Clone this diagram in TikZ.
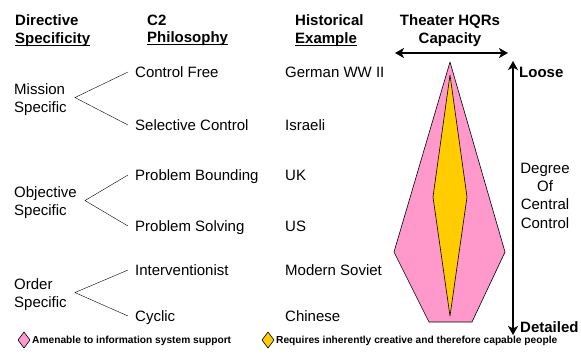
\documentclass[tikz,border=0pt]{standalone}
\usepackage{fontspec}
\setmainfont{Liberation Sans}
\usetikzlibrary{arrows.meta}
\definecolor{pinkfill}{HTML}{FF99CC}
\definecolor{goldfill}{HTML}{FFCC00}
\newcommand{\hul}[1]{\setbox0\hbox{#1}\rlap{\rule[-2.6pt]{\wd0}{1.2pt}}\box0}

\begin{document}
\begin{tikzpicture}[x=1pt,y=-1pt,
	txt/.style={inner sep=0pt,anchor=west,text height=11pt,text depth=0pt,font=\fontsize{15}{17.5}\selectfont},
	blk/.style={inner sep=0pt,anchor=north west,align=left,font=\fontsize{15}{17.5}\selectfont},
	hdr/.style={blk,font=\fontsize{15}{17.5}\selectfont\bfseries},
	key/.style={inner sep=0pt,anchor=west,text height=7.2pt,text depth=0pt,font=\fontsize{10.2}{12}\selectfont\bfseries},
	both/.style={line width=1.8pt,{Stealth[length=9pt,width=10pt,inset=2.5pt]}-{Stealth[length=9pt,width=10pt,inset=2.5pt]}},
	shp/.style={draw=black,line width=0.6pt,line join=round}]
	\useasboundingbox (0,0) rectangle (581,360);

	\node[hdr] (h1) at (15,14.6) {Directive\\\hul{Specificity}};
	\node[hdr] (h2) at (147,14.6) {C2\\\hul{Philosophy}};
	\node[hdr] (h3) at (295,14.6) {Historical\\\hul{Example}};
	\node[hdr,anchor=north,align=center] (h4) at (450,14.6) {Theater HQRs\\Capacity};

	\node[blk] (mis) at (14,83.6) {Mission\\Specific};
	\node[blk] (obj) at (14,186.6) {Objective\\Specific};
	\node[blk] (ord) at (14,278.6) {Order\\Specific};

	\node[txt] (cf) at (135,72) {Control Free};
	\node[txt] (sc) at (135,125) {Selective Control};
	\node[txt] (pb) at (135,175) {Problem Bounding};
	\node[txt] (ps) at (135,226) {Problem Solving};
	\node[txt] (iv) at (135,270) {Interventionist};
	\node[txt] (cy) at (135,316) {Cyclic};

	\node[txt] (ge) at (285,72) {German WW II};
	\node[txt] (is) at (285,125) {Israeli};
	\node[txt] (uk) at (285,175) {UK};
	\node[txt] (us) at (285,226) {US};
	\node[txt] (so) at (285,270) {Modern Soviet};
	\node[txt] (cn) at (285,316) {Chinese};

	\draw[thin] ([xshift=-7pt]cf.west) -- ([shift={(8,-2)}]mis.east) -- ([xshift=-7pt]sc.west);
	\draw[thin] ([xshift=-7pt]pb.west) -- ([shift={(8,-2)}]obj.east) -- ([xshift=-7pt]ps.west);
	\draw[thin] ([xshift=-7pt]iv.west) -- ([shift={(8,-2)}]ord.east) -- ([xshift=-7pt]cy.west);

	\filldraw[shp,fill=pinkfill] (450,62) -- (505,252) -- (472,322) -- (429,322) -- (394,252) -- cycle;
	\filldraw[shp,fill=goldfill] (450,75) -- (467,197) -- (450,316) -- (433,197) -- cycle;

	\coordinate (capl) at (395,53);
	\coordinate (capr) at (508,53);
	\draw[both] (capl) -- (capr);
	\coordinate (lo) at (513,61);
	\coordinate (hi) at (513,335);
	\draw[both] (lo) -- (hi);

	\node[txt,font=\fontsize{15}{17.5}\selectfont\bfseries] (loose) at (519,72) {Loose};
	\node[txt,font=\fontsize{15}{17.5}\selectfont\bfseries] (det) at (520,327) {Detailed};
	\node[blk,anchor=north,align=center,font=\fontsize{15}{18.3}\selectfont] (deg) at (545,162.6) {Degree\\Of\\Central\\Control};

	\filldraw[shp,fill=pinkfill] (18,340) -- (24,332) -- (30,340) -- (24,348) -- cycle;
	\node[key] (k1) at (32,340) {Amenable to information system support};
	\filldraw[shp,fill=goldfill] (262,340) -- (268,332) -- (274,340) -- (268,348) -- cycle;
	\node[key] (k2) at (276,340) {Requires inherently creative and therefore capable people};
\end{tikzpicture}
\end{document}
